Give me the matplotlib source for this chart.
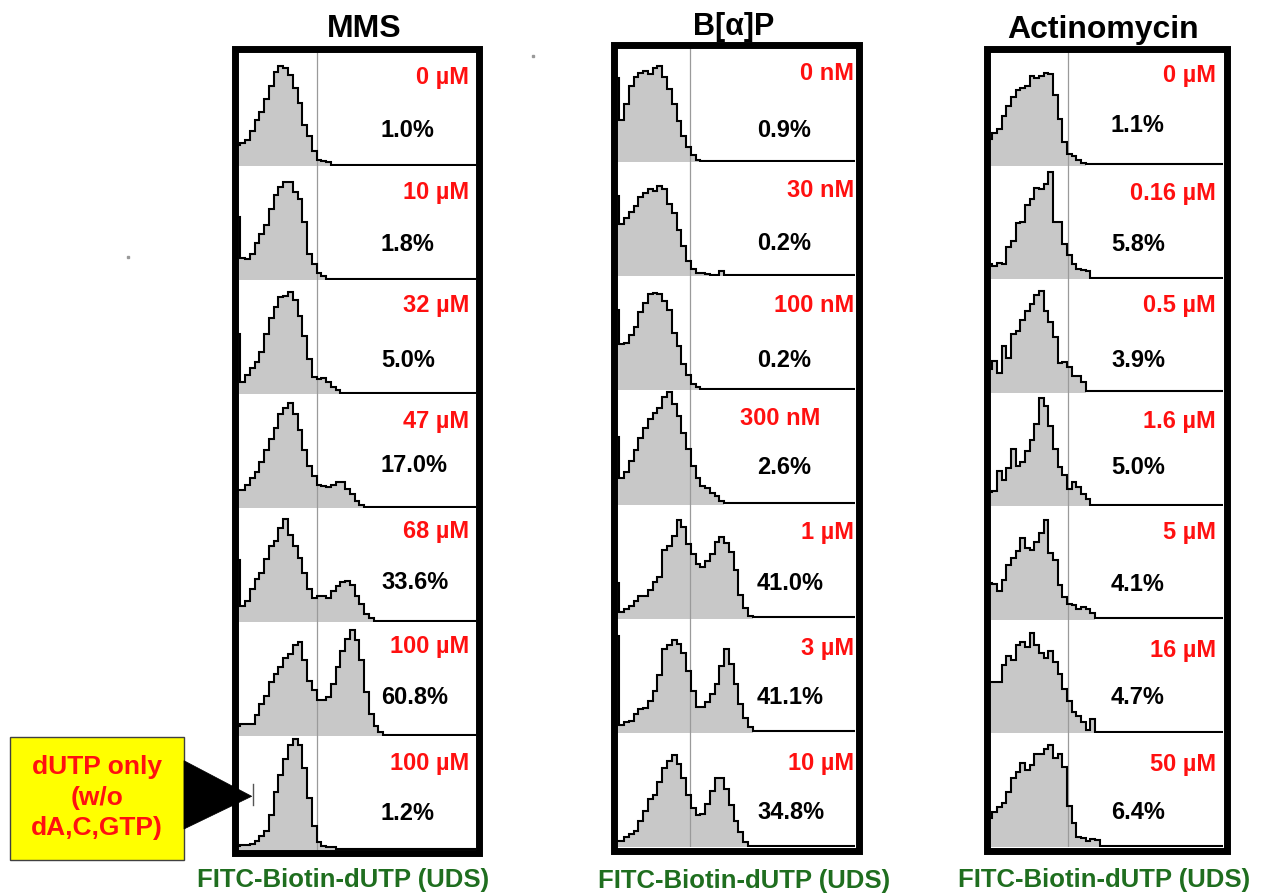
import numpy as np
import matplotlib
matplotlib.use('Agg')
import matplotlib.pyplot as plt
from matplotlib.patches import Rectangle, Polygon

plt.rcParams['font.family'] = ['Liberation Sans', 'DejaVu Sans']

# ---------------- data ----------------
titles = ['MMS', 'B[α]P', 'Actinomycin']
xlabel = 'FITC-Biotin-dUTP (UDS)'

mms_doses = ['0 µM', '10 µM', '32 µM', '47 µM', '68 µM', '100 µM', '100 µM']
mms_pcts = ['1.0%', '1.8%', '5.0%', '17.0%', '33.6%', '60.8%', '1.2%']
bap_doses = ['0 nM', '30 nM', '100 nM', '300 nM', '1 µM', '3 µM', '10 µM']
bap_pcts = ['0.9%', '0.2%', '0.2%', '2.6%', '41.0%', '41.1%', '34.8%']
act_doses = ['0 µM', '0.16 µM', '0.5 µM', '1.6 µM', '5 µM', '16 µM', '50 µM']
act_pcts = ['1.1%', '5.8%', '3.9%', '5.0%', '4.1%', '4.7%', '6.4%']

# histogram counts (first value = lowest channel, then equal-width bins)
mms_hist = [
    [17, 19, 22, 30, 40, 47, 58, 70, 82, 88, 86, 80, 68, 55, 35, 25, 12, 4, 3, 2],
    [55, 18, 17, 22, 32, 40, 48, 62, 74, 81, 86, 86, 77, 71, 50, 22, 13, 5, 2],
    [52, 9, 16, 22, 27, 36, 52, 66, 76, 85, 86, 89, 82, 68, 50, 30, 14, 12, 13, 9, 5, 2],
    [15, 15, 19, 25, 31, 40, 50, 60, 70, 82, 88, 92, 82, 68, 50, 36, 27, 19, 18, 17, 19, 22, 22, 16, 11, 5, 1],
    [54, 13, 17, 28, 37, 42, 55, 66, 71, 82, 90, 76, 66, 56, 42, 28, 20, 22, 22, 20, 26, 31, 34, 35, 32, 22, 15, 6, 2],
    [8, 9, 9, 9, 17, 27, 34, 47, 54, 60, 68, 72, 80, 82, 66, 48, 40, 31, 31, 33, 45, 60, 74, 85, 93, 84, 66, 38, 18, 8, 2],
    [2, 3, 3, 4, 7, 11, 16, 30, 50, 65, 80, 92, 97, 92, 72, 45, 20, 6, 2, 1.5, 1],
]
bap_hist = [
    [73, 36, 50, 66, 74, 78, 80, 77, 82, 84, 74, 64, 50, 35, 22, 12, 5, 1],
    [70, 45, 50, 56, 61, 69, 73, 76, 74, 79, 76, 63, 55, 40, 26, 12, 5, 2, 2, 1, 0, 0, 3],
    [70, 40, 41, 48, 55, 68, 76, 84, 85, 84, 78, 70, 50, 38, 22, 12, 4, 1.5],
    [59, 22, 28, 37, 47, 58, 67, 75, 80, 84, 94, 99, 88, 77, 62, 48, 33, 22, 15, 13, 9, 6, 2],
    [30, 5, 7, 10, 14, 19, 19, 24, 31, 36, 60, 63, 72, 86, 80, 65, 56, 47, 45, 50, 56, 67, 71, 66, 58, 42, 20, 8, 1],
    [85, 6, 8, 9, 15, 20, 21, 27, 36, 50, 73, 77, 81, 78, 70, 54, 36, 22, 22, 26, 33, 42, 58, 73, 60, 42, 24, 12, 4],
    [4, 4, 8, 10, 13, 22, 31, 41, 45, 56, 69, 75, 80, 72, 60, 45, 33, 27, 28, 37, 48, 60, 60, 50, 36, 22, 12, 3],
]
act_hist = [
    [22, 28, 31, 43, 52, 60, 66, 68, 70, 79, 77, 79, 81, 80, 62, 40, 20, 9, 7, 4, 1],
    [12, 10, 13, 12, 27, 33, 49, 50, 65, 70, 80, 79, 84, 94, 50, 50, 30, 20, 12, 8, 7, 6],
    [20, 27, 16, 40, 30, 51, 54, 64, 72, 78, 86, 89, 72, 62, 48, 25, 26, 22, 14, 14, 8],
    [11, 12, 30, 22, 33, 50, 35, 38, 48, 58, 72, 95, 88, 70, 50, 34, 27, 14, 20, 16, 10, 5],
    [32, 31, 24, 34, 48, 54, 60, 72, 63, 61, 68, 76, 88, 58, 52, 30, 19, 13, 12, 8, 10, 8, 5],
    [45, 45, 45, 60, 68, 64, 78, 80, 76, 88, 78, 70, 66, 72, 62, 52, 38, 28, 18, 14, 9, 2, 12],
    [25, 30, 34, 38, 48, 60, 66, 74, 67, 72, 82, 82, 86, 90, 78, 82, 70, 35, 20, 8, 7, 4, 6, 5],
]

box_lines = ['dUTP only', '(w/o', 'dA,C,GTP)']

# ---------------- layout (pixels) ----------------
W, H = 1265, 895
fig = plt.figure(figsize=(W / 100, H / 100), dpi=100)

inner = [(238, 476, 53, 851), (617, 855, 49, 848), (990, 1223, 53, 848)]
border = [(235, 479, 49.5, 854), (613.5, 858.5, 45.8, 851.5), (986.5, 1226.5, 49.7, 851.5)]
gray_px = [316.7, 690, 1068.3]
title_pos = [(364, 37, 23), (734, 35, 22), (1103, 38.3, 23)]
dose_right = [[469] * 7, [854, 854, 854, 820, 854, 854, 854], [1216] * 7]
dose_base = [[84.3, 199, 311.7, 428.3, 537.7, 653.3, 770],
             [80, 196.7, 311.7, 425, 539.3, 655, 770],
             [81.7, 200, 311.7, 428.3, 539.3, 656.7, 770.7]]
pct_left = [381, 757, 1111]
pct_base = [[137.3, 250.7, 367.3, 471.7, 589.3, 704, 820],
            [136.7, 250, 367.3, 474, 590, 704, 819.3],
            [131.7, 250.7, 367.3, 474, 590.7, 704, 819.3]]
xlab_pos = [(343, 886.7), (744, 888), (1104, 886.7)]

RED = '#FF1010'
GREEN = '#1F6E1F'
FILL = '#C8C8C8'
LABEL_FS = 17

all_hist = [mms_hist, bap_hist, act_hist]
all_doses = [mms_doses, bap_doses, act_doses]
all_pcts = [mms_pcts, bap_pcts, act_pcts]

for c in range(3):
    x0, x1, y0, y1 = inner[c]
    ph = (y1 - y0) / 7.0
    gu = (gray_px[c] - x0) / (x1 - x0) * 100
    for p in range(7):
        top = y0 + p * ph
        ax = fig.add_axes([x0 / W, 1 - (top + ph) / H, (x1 - x0) / W, ph / H])
        vals = np.array(all_hist[c][p], dtype=float)
        n = len(vals)
        edges = np.concatenate([[0.0], 1.0 + 2.0 * np.arange(n)])
        vals_ext = np.append(vals, 0.0)
        edges_ext = np.append(edges, 100.0)
        ax.stairs(vals, edges, fill=True, baseline=-5, color=FILL, lw=0, zorder=1)
        ax.axvline(gu, color='#9A9A9A', lw=0.9, zorder=2)
        ax.stairs(vals_ext, edges_ext, baseline=None, color='black', lw=1.5, zorder=3)
        ax.set_xlim(0, 100)
        ax.set_ylim(-1.3, 100)
        ax.axis('off')

# overlay in pixel coordinates
ov = fig.add_axes([0, 0, 1, 1], zorder=10)
ov.set_xlim(0, W)
ov.set_ylim(H, 0)
ov.axis('off')
ov.patch.set_alpha(0)

for c in range(3):
    l, r, t, b = border[c]
    ov.add_patch(Rectangle((l, t), r - l, b - t, fill=False, ec='black', lw=5.0, joinstyle='miter'))
    tx, ty, fs = title_pos[c]
    ov.text(tx, ty, titles[c], ha='center', va='baseline', fontsize=fs, fontweight='bold', color='black')
    for p in range(7):
        ov.text(dose_right[c][p], dose_base[c][p], all_doses[c][p], ha='right', va='baseline',
                fontsize=LABEL_FS, fontweight='bold', color=RED)
        ov.text(pct_left[c], pct_base[c][p], all_pcts[c][p], ha='left', va='baseline',
                fontsize=LABEL_FS, fontweight='bold', color='black')
    gx, gy = xlab_pos[c]
    ov.text(gx, gy, xlabel, ha='center', va='baseline', fontsize=18.5, fontweight='bold', color=GREEN)

# yellow call-out box with arrow
ov.add_patch(Rectangle((10, 738.3), 174, 122.4, fc='#FFFF00', ec='#404040', lw=1.0))
for line, yb in zip(box_lines, [774, 805, 835]):
    ov.text(97, yb, line, ha='center', va='baseline', fontsize=19, fontweight='bold', color=RED)
ov.add_patch(Polygon([(184, 761.7), (184, 830), (251.7, 797.3)], closed=True, fc='black', ec='black', lw=0.5))
ov.plot([253.3, 253.3], [785, 806], color='#555555', lw=1.0)

# small stray specks present in the original figure
ov.plot([533, 128], [57, 258], ls='none', marker='s', ms=1.5, color='#999999')

fig.savefig('out.png', dpi=100)
